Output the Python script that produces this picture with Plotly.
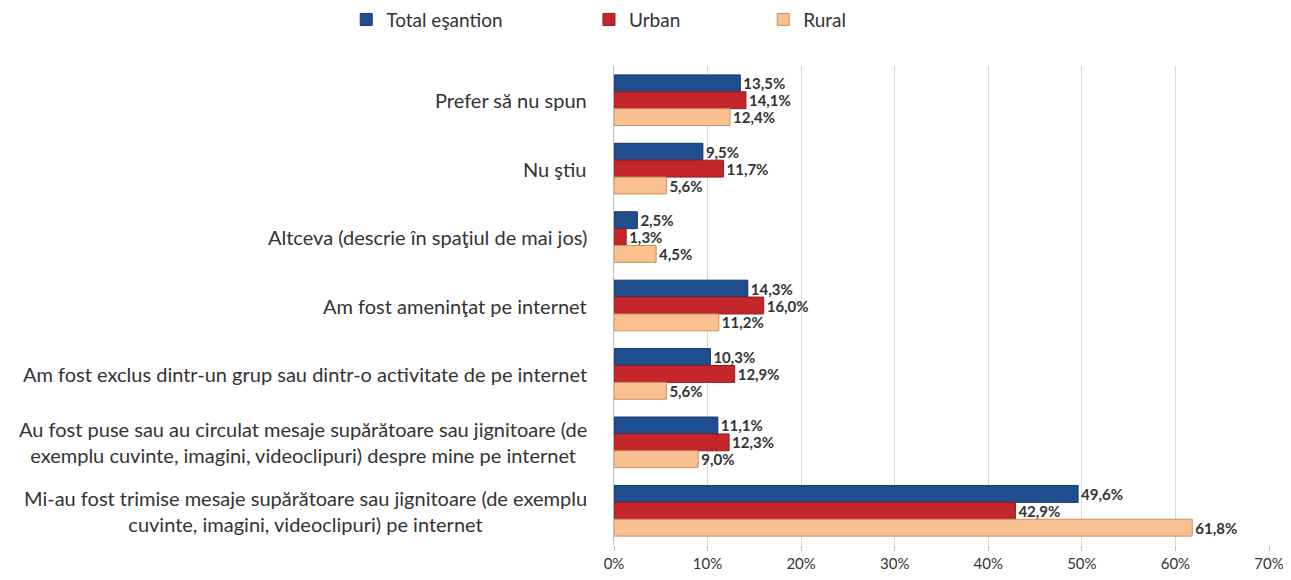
import plotly.graph_objects as go

categorii = [
    "Prefer să nu spun",
    "Nu ştiu",
    "Altceva (descrie în spaţiul de mai jos)",
    "Am fost ameninţat pe internet",
    "Am fost exclus dintr-un grup sau dintr-o activitate de pe internet",
    "Au fost puse sau au circulat mesaje supărătoare sau jignitoare (de<br>exemplu cuvinte, imagini, videoclipuri) despre mine pe internet",
    "Mi-au fost trimise mesaje supărătoare sau jignitoare (de exemplu<br>cuvinte, imagini, videoclipuri) pe internet",
]
total = [0.135, 0.095, 0.025, 0.143, 0.103, 0.111, 0.496]
urban = [0.141, 0.117, 0.013, 0.160, 0.129, 0.123, 0.429]
rural = [0.124, 0.056, 0.045, 0.112, 0.056, 0.090, 0.618]

serii = [
    ("Total eşantion", total, "#1F4E8E", "#16396a", "legend", 0.262),
    ("Urban", urban, "#C4262B", "#8f1b1f", "legend2", 0.450),
    ("Rural", rural, "#FAC08F", "#c89262", "legend3", 0.585),
]

ids = [f"c{i}" for i in range(len(categorii))]
fig = go.Figure()
for nume, vals, cul, contur, leg, _ in serii:
    fig.add_trace(go.Bar(
        name=nume, y=ids, x=vals, orientation="h", legend=leg, showlegend=True,
        marker=dict(color=cul, line=dict(color=contur, width=1)),
        texttemplate="%{x:.1%}", textposition="outside", cliponaxis=False,
        constraintext="none",
        textfont=dict(family="Lato", size=15, color="#333333", weight="bold"),
    ))

# etichete de categorie centrate pe mai multe rânduri
for cid, txt in zip(ids, categorii):
    fig.add_annotation(
        x=-0.038, xref="paper", y=cid, yref="y", text=txt, showarrow=False,
        xanchor="right", align="center",
        font=dict(family="Lato", size=20, color="#333333"),
    )

leg_stil = dict(orientation="h", xref="container", yref="container", y=0.98,
                yanchor="middle", xanchor="left", bgcolor="rgba(0,0,0,0)",
                font=dict(family="Lato", size=19, color="#333333"))
legende = {leg: dict(leg_stil, x=xp) for _, _, _, _, leg, xp in serii}

fig.update_layout(
    separators=",.",
    showlegend=True,
    barmode="group", bargap=0.26, bargroupgap=0,
    plot_bgcolor="white", paper_bgcolor="white",
    width=1291, height=580,
    margin=dict(l=606, r=30, t=58, b=43),
    font=dict(family="Lato", size=15, color="#333333"),
    xaxis=dict(range=[0, 0.7], dtick=0.1, tickformat=".0%", showgrid=True,
               gridcolor="#d9d9d9", zeroline=False, showline=False,
               ticks="outside", ticklen=5, tickcolor="#bfbfbf",
               tickfont=dict(family="Lato", size=15, color="#333333")),
    yaxis=dict(autorange="reversed", showticklabels=False, showline=True,
               linecolor="#bfbfbf", ticks="", showgrid=False),
    **legende,
)

fig.write_html("out.html")
